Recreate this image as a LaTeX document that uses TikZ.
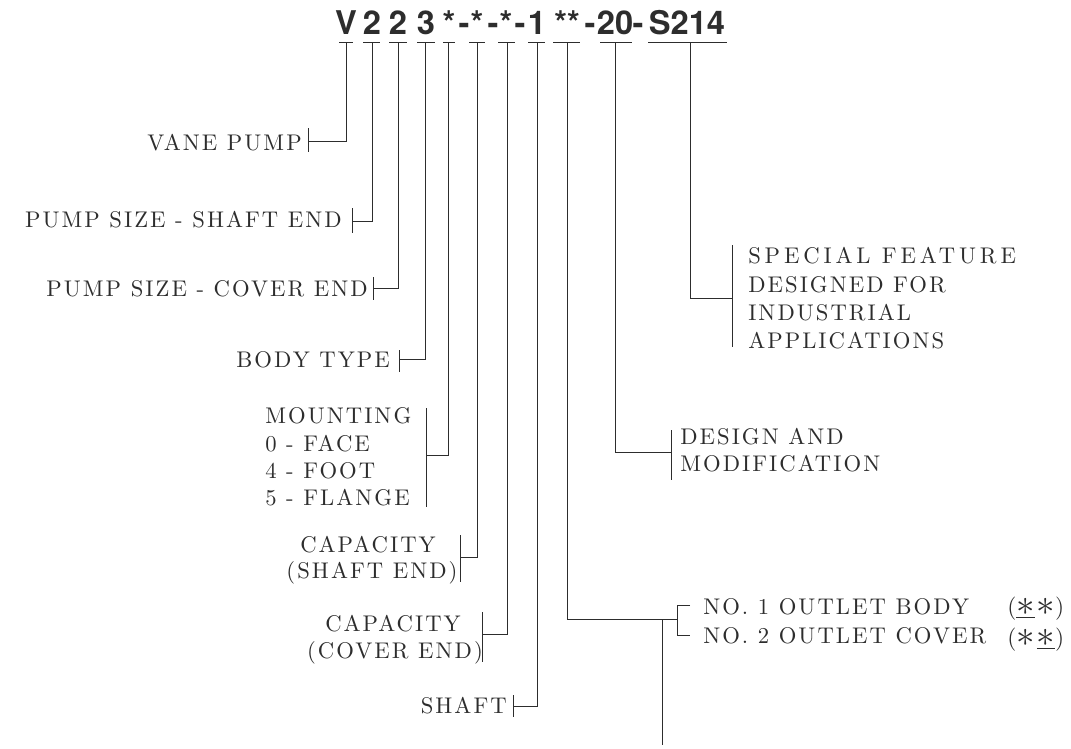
\documentclass[tikz,border=0pt]{standalone}
\usepackage{fontspec}
\usepackage{graphicx}
\newfontfamily\labfont{lmroman10-regular.otf}[LetterSpace=9]
\newfontfamily\labfontw{lmroman10-regular.otf}[LetterSpace=17]
\newfontfamily\titlefont{texgyreheros-bold.otf}
\definecolor{ink}{RGB}{45,45,45}
\newcommand{\bigast}{\raisebox{-0.1ex}{\scalebox{1.6}{$\ast$}}}
\tikzset{
  lab/.style={inner sep=0pt, font=\labfont\fontsize{17}{20}\selectfont, text=ink},
  labw/.style={inner sep=0pt, font=\labfontw\fontsize{17}{20}\selectfont, text=ink},
  big/.style={inner sep=0pt, font=\labfont\fontsize{17.5}{20}\selectfont, text=ink},
  ttl/.style={inner sep=0pt, font=\titlefont\fontsize{24.5}{28}\selectfont, text=ink, anchor=base},
  ln/.style={draw=ink, line width=0.75pt},
}
\begin{document}
\begin{tikzpicture}[x=0.75pt,y=-0.75pt]
\useasboundingbox (0,0) rectangle (1071,749);
% ---- title code ----
\node[ttl] (tV)  at (346,35) {V};
\node[ttl] (t2a) at (372,35) {2};
\node[ttl] (t2b) at (398,35) {2};
\node[ttl] (t3)  at (426,35) {3};
\node[ttl] (ts1) at (449,35) {*};
\node[ttl] (dh1) at (464,35) {-};
\node[ttl] (ts2) at (477,35) {*};
\node[ttl] (dh2) at (493,35) {-};
\node[ttl] (ts3) at (506,35) {*};
\node[ttl] (dh3) at (520,35) {-};
\node[ttl] (t1)  at (537,35) {1};
\node[ttl] (tss) at (567,35) {**};
\node[ttl] (dh4) at (590,35) {-};
\node[ttl] (t20) at (615,35) {20};
\node[ttl] (dh5) at (638,35) {-};
\node[ttl] (tS)  at (687,35) {S214};
% ---- underline centres ----
\coordinate (u1)  at (346,43);
\coordinate (u2)  at (372,43);
\coordinate (u3)  at (398,43);
\coordinate (u4)  at (425,43);
\coordinate (u5)  at (448,43);
\coordinate (u6)  at (477,43);
\coordinate (u7)  at (507,43);
\coordinate (u8)  at (537,43);
\coordinate (u9)  at (567,43);
\coordinate (u10) at (615,43);
\coordinate (u11) at (690,43);
\draw[ln] (u1) ++(-7,0) -- ++(14,0);
\draw[ln] (u2) ++(-9,0) -- ++(17,0);
\draw[ln] (u3) ++(-9,0) -- ++(18,0);
\draw[ln] (u4) ++(-8,0) -- ++(18,0);
\draw[ln] (u5) ++(-5,0) -- ++(12,0);
\draw[ln] (u6) ++(-8,0) -- ++(16,0);
\draw[ln] (u7) ++(-9,0) -- ++(17,0);
\draw[ln] (u8) ++(-9,0) -- ++(17,0);
\draw[ln] (u9) ++(-14,0) -- ++(27,0);
\draw[ln] (u10) ++(-15,0) -- ++(32,0);
\draw[ln] (u11) ++(-42,0) -- ++(79,0);
% ---- labels ----
\node[lab, anchor=base east] (l1) at (302,150) {VANE PUMP};
\node[lab, anchor=base east] (l2) at (342,227) {PUMP SIZE - SHAFT END};
\node[lab, anchor=base east] (l3) at (368,296) {PUMP SIZE - COVER END};
\node[lab, anchor=base east] (l4) at (390,367) {BODY TYPE};
\node[lab, anchor=base west] (l5a) at (265,423) {MOUNTING};
\node[lab, anchor=base west] (l5b) at (265,451) {0 - FACE};
\node[lab, anchor=base west] (l5c) at (265,478) {4 - FOOT};
\node[lab, anchor=base west] (l5d) at (265,505) {5 - FLANGE};
\node[lab, anchor=base] (l6a) at (368,552) {CAPACITY};
\node[lab, anchor=base] (l6b) at (372,578) {(SHAFT END)};
\node[lab, anchor=base] (l7a) at (393,631) {CAPACITY};
\node[lab, anchor=base] (l7b) at (395,658) {(COVER END)};
\node[lab, anchor=base east] (l8) at (507,713) {SHAFT};
\node[lab, anchor=base west] (l9a) at (703,614) {NO. 1 OUTLET BODY};
\node[lab, anchor=base west] (l9b) at (703,643) {NO. 2 OUTLET COVER};
\node[big, anchor=base west] (p9a) at (1007,614) {(\underline{\bigast}\kern1.5pt\bigast)};
\node[big, anchor=base west] (p9b) at (1007,645) {(\bigast\kern1.5pt\underline{\bigast})};
\node[lab, anchor=base west] (l10a) at (680,444) {DESIGN AND};
\node[lab, anchor=base west] (l10b) at (680,471) {MODIFICATION};
\node[labw, anchor=base west] (l11a) at (748,263) {SPECIAL FEATURE};
\node[lab, anchor=base west] (l11b) at (748,292) {DESIGNED FOR};
\node[lab, anchor=base west] (l11c) at (748,320) {INDUSTRIAL};
\node[lab, anchor=base west] (l11d) at (748,348) {APPLICATIONS};
% ---- bracket points ----
\coordinate (b1)  at (308,141);
\coordinate (b2)  at (352,221);
\coordinate (b3)  at (373,288);
\coordinate (b4)  at (399,359);
\coordinate (b5)  at (426,455);
\coordinate (b6)  at (460,557);
\coordinate (b7)  at (482,634);
\coordinate (b8)  at (513,706);
\coordinate (b9)  at (677,619);
\coordinate (b10) at (671,452);
\coordinate (b11) at (732,298);
% ---- brackets ----
\draw[ln] (308,128) -- (308,152);
\draw[ln] (352,208) -- (352,233);
\draw[ln] (373,277) -- (373,300);
\draw[ln] (399,350) -- (399,372);
\draw[ln] (426,408) -- (426,507);
\draw[ln] (460,535) -- (460,582);
\draw[ln] (482,612) -- (482,662);
\draw[ln] (513,695) -- (513,717);
\draw[ln] (690,605) -- (677,605) -- (677,635) -- (690,635);
\draw[ln] (671,430) -- (671,480);
\draw[ln] (732,245) -- (732,347);
% ---- connectors ----
\draw[ln] (u1) |- (b1);
\draw[ln] (u2) |- (b2);
\draw[ln] (u3) |- (b3);
\draw[ln] (u4) |- (b4);
\draw[ln] (u5) |- (b5);
\draw[ln] (u6) |- (b6);
\draw[ln] (u7) |- (b7);
\draw[ln] (u8) |- (b8);
\draw[ln] (u9) |- (b9);
\draw[ln] (u10) |- (b10);
\draw[ln] (u11) |- (b11);
\coordinate (j9) at (662,619);
\coordinate (e9) at (662,745);
\draw[ln] (j9) -- (e9);
\end{tikzpicture}
\end{document}
